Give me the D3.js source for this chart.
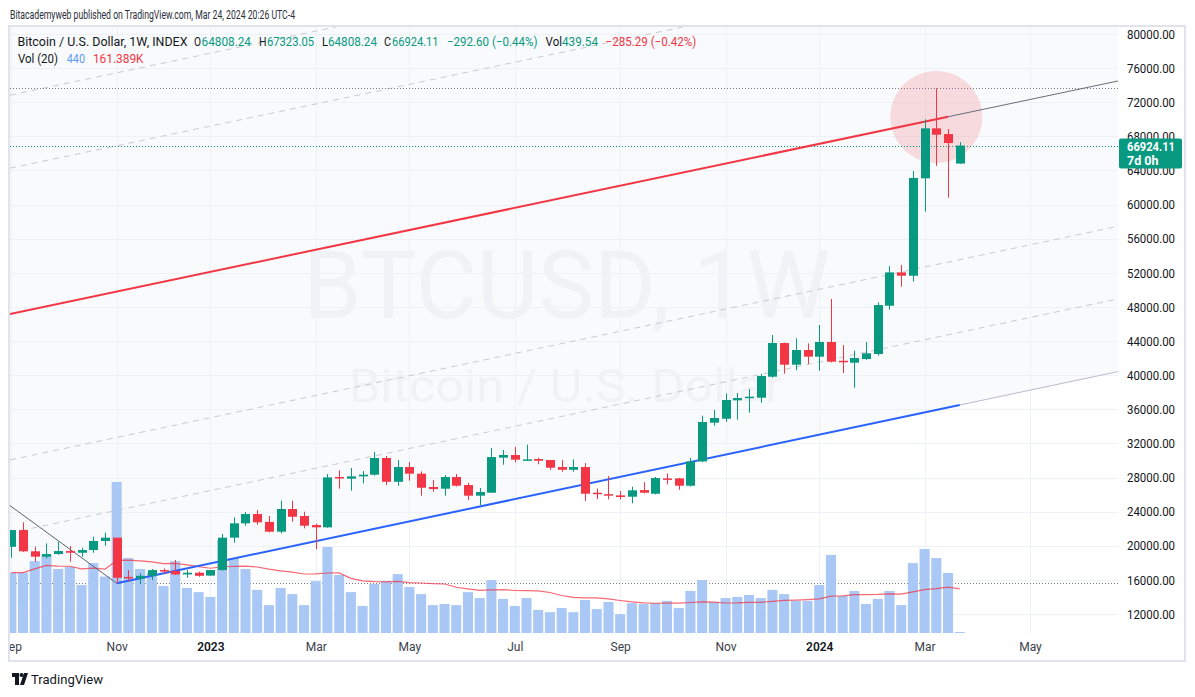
<!DOCTYPE html>
<html><head><meta charset="utf-8">
<script src="https://cdn.jsdelivr.net/npm/d3@7"></script>
<style>
body{margin:0;background:#fff;}
svg{display:block;font-family:Roboto,"Liberation Sans",sans-serif;}
</style>
</head><body>
<svg id="c" width="1195" height="697"></svg>
<script>
// ---------------- DATA ----------------
const weekStarts = [
"2022-09-05","2022-09-12","2022-09-19","2022-09-26","2022-10-03","2022-10-10","2022-10-17","2022-10-24","2022-10-31","2022-11-07",
"2022-11-14","2022-11-21","2022-11-28","2022-12-05","2022-12-12","2022-12-19","2022-12-26","2023-01-02","2023-01-09","2023-01-16",
"2023-01-23","2023-01-30","2023-02-06","2023-02-13","2023-02-20","2023-02-27","2023-03-06","2023-03-13","2023-03-20","2023-03-27",
"2023-04-03","2023-04-10","2023-04-17","2023-04-24","2023-05-01","2023-05-08","2023-05-15","2023-05-22","2023-05-29","2023-06-05",
"2023-06-12","2023-06-19","2023-06-26","2023-07-03","2023-07-10","2023-07-17","2023-07-24","2023-07-31","2023-08-07","2023-08-14",
"2023-08-21","2023-08-28","2023-09-04","2023-09-11","2023-09-18","2023-09-25","2023-10-02","2023-10-09","2023-10-16","2023-10-23",
"2023-10-30","2023-11-06","2023-11-13","2023-11-20","2023-11-27","2023-12-04","2023-12-11","2023-12-18","2023-12-25","2024-01-01",
"2024-01-08","2024-01-15","2024-01-22","2024-01-29","2024-02-05","2024-02-12","2024-02-19","2024-02-26","2024-03-04","2024-03-11",
"2024-03-18","2024-03-25"];

const opens = [19880,21840,19350,18720,19030,19380,19180,19500,20560,20950,
16350,16150,16480,17150,17050,16640,16840,16500,17150,20950,
22630,23720,22800,21650,24310,23490,22430,22160,28060,27860,
28140,28330,30290,27500,29230,28450,26890,26690,28060,27120,
25870,26220,30330,30640,30050,30170,30050,29230,28910,29230,
26220,26050,25910,25750,26530,26100,27900,27900,27040,29880,
34430,34890,37050,37360,37360,39820,43770,41230,42950,42170,
43890,41690,41460,41890,42480,48140,52050,51660,63080,68940,
68270,64808.24];

const highs = [21850,22750,19890,20280,20480,19970,19770,21060,21530,20950,
17150,16770,17270,17350,18330,17150,16960,17150,21380,23330,
23950,24190,23490,25290,25290,24000,22600,28410,28840,29110,
28760,30990,30520,30050,29820,28730,27700,28290,28410,27390,
26770,31460,31220,31580,31850,30330,30050,30050,30130,29700,
26730,28170,26420,26920,27470,28060,28490,27950,30290,35250,
35920,37870,37910,38370,40140,44710,43800,44320,43730,45880,
48930,43530,42870,43890,48540,52800,52920,63940,70000,73630,
68860,67323.05];

const lows = [18600,19250,18130,18520,18950,18130,18710,19180,20000,15600,
15780,15510,15980,16690,16570,16250,16370,16480,17080,20360,
22350,22470,21560,21450,22820,22040,19580,22110,26690,26470,
27320,28220,27120,27040,27620,25870,26330,25870,26950,25360,
24770,26220,29500,29780,29950,29550,28910,28680,28680,25240,
25480,25440,25440,24970,26150,26030,27200,26570,26950,29800,
34070,34540,34780,35600,36770,39700,40170,40570,41310,40520,
41500,40250,38530,41800,42290,47670,50370,50960,59170,64530,
60810,64808.24];

const closes = [21840,19350,18720,19030,19380,19180,19500,20560,20950,16250,
16230,16480,17150,17050,16640,16840,16480,17150,20950,22630,
23720,22750,21650,24310,23400,22350,22160,28020,27900,28140,
28330,30290,27500,29230,28450,26800,26650,28060,27040,25870,
26300,30400,30640,30090,30130,29970,29150,28910,29230,26100,
26100,25870,25710,26500,26220,27940,27790,27040,29880,34510,
34980,37090,37320,37480,39900,43770,41230,42950,42170,43890,
41580,41510,42010,42560,48220,52050,51660,63120,68940,68190,
67217,66924.11];

// volume in thousands
const volumesK = [214,214,255,277,227,234,170,248,200,536,
266,227,214,167,255,160,145,128,330,266,
227,153,99,160,138,99,184,305,206,145,
96,174,184,209,163,138,99,103,99,145,
124,188,121,96,124,82,74,89,74,117,
85,110,67,106,103,106,114,89,149,188,
110,124,128,135,124,153,138,114,114,170,
277,131,149,103,121,149,99,248,298,266,
213,0.44];

const priceTicks = [12000,16000,20000,24000,28000,32000,36000,40000,44000,48000,52000,56000,60000,64000,68000,72000,76000,80000];
const timeTickDates = ["2022-09-05","2022-11-07","2023-01-02","2023-03-06","2023-05-01","2023-07-03","2023-09-04","2023-11-06","2024-01-01","2024-03-04","2024-05-06"];
const timeTickLabels = ["Sep","Nov","2023","Mar","May","Jul","Sep","Nov","2024","Mar","May"];

// drawings (date, price anchors)
const redLine = [["2022-09-05",47200],["2024-03-18",70300]];
const blueLine = [["2022-11-07",15600],["2024-03-25",36500]];
const blackLine = [["2022-09-05",24600],["2022-11-07",15600]];
const channelLevels = [-0.75,-0.5,0.5,0.75];
const hLevels = [73630, 15600];
const lastPrice = 66924.11;
const circleCenter = ["2024-03-11",70270];
const circleTopPrice = 75660;

// ---------------- CHART ----------------
const parse = d3.utcParse("%Y-%m-%d");
const dates = weekStarts.map(parse);
const svg = d3.select("#c");
const P = {x0:10, x1:1118, y0:27, y1:633};
const UP = "#089981", DOWN = "#f23645";

const x = d3.scaleUtc().domain([parse("2022-09-05"), parse("2024-05-06")]).range([11.3, 1030]);
const y = d3.scaleLinear().domain([12000, 80000]).range([614, 34]);
const vy = d3.scaleLinear().domain([0, 540]).range([633, 480.8]);
const step = x(dates[1]) - x(dates[0]);

function lineFn(a, b) {
  const t0 = +parse(a[0]), t1 = +parse(b[0]);
  return t => a[1] + (b[1] - a[1]) * ((+t - t0) / (t1 - t0));
}
const red = lineFn(redLine[0], redLine[1]);
const blue = lineFn(blueLine[0], blueLine[1]);
const blk = lineFn(blackLine[0], blackLine[1]);
const tL = x.invert(P.x0), tR = x.invert(P.x1);

svg.append("rect").attr("width",1195).attr("height",697).attr("fill","#fff");
const defs = svg.append("defs");
defs.append("clipPath").attr("id","plot").append("rect")
  .attr("x",P.x0).attr("y",P.y0).attr("width",P.x1-P.x0).attr("height",P.y1-P.y0);
defs.append("clipPath").attr("id","xax").append("rect")
  .attr("x",P.x0).attr("y",P.y1).attr("width",P.x1-P.x0).attr("height",30);

const g = svg.append("g").attr("clip-path","url(#plot)");

// channel tint
g.append("path").attr("fill","#f8fafb")
  .attr("d", `M${P.x0},${P.y0}L${P.x1},${P.y0}L${P.x1},${y(blue(tR))}L${P.x0},${y(blue(tL))}Z`);

// grid
g.selectAll(".hg").data(priceTicks).enter().append("line")
  .attr("x1",P.x0).attr("x2",P.x1).attr("y1",d=>Math.round(y(d))+0.5).attr("y2",d=>Math.round(y(d))+0.5)
  .attr("stroke","#eef1f6").attr("stroke-width",1);
g.selectAll(".vg").data(timeTickDates).enter().append("line")
  .attr("y1",P.y0).attr("y2",P.y1).attr("x1",d=>Math.round(x(parse(d)))+0.5).attr("x2",d=>Math.round(x(parse(d)))+0.5)
  .attr("stroke","#eef1f6").attr("stroke-width",1);

// watermark
g.append("text").attr("x",303).attr("y",318).attr("font-size",94).attr("fill","#f1f2f5")
  .attr("textLength",527).attr("lengthAdjust","spacingAndGlyphs").text("BTCUSD, 1W");
g.append("text").attr("x",349).attr("y",402).attr("font-size",46).attr("fill","#f1f2f5")
  .attr("textLength",433).attr("lengthAdjust","spacingAndGlyphs").text("Bitcoin / U.S. Dollar");

// circle highlight
const cc = parse(circleCenter[0]);
g.append("circle").attr("cx",x(cc)).attr("cy",y(circleCenter[1]))
  .attr("r", y(circleCenter[1]) - y(circleTopPrice)).attr("fill","rgba(242,54,69,0.16)");

// channel dashed levels
channelLevels.forEach(k => {
  const f = t => red(t) + k * (blue(t) - red(t));
  g.append("line").attr("x1",P.x0).attr("y1",y(f(tL))).attr("x2",P.x1).attr("y2",y(f(tR)))
    .attr("stroke","#c9cbd3").attr("stroke-width",1).attr("stroke-dasharray","6,5");
});

// horizontal dotted lines
hLevels.forEach(p => {
  g.append("line").attr("x1",P.x0).attr("x2",P.x1).attr("y1",Math.round(y(p))+0.5).attr("y2",Math.round(y(p))+0.5)
    .attr("stroke","#787b86").attr("stroke-width",1).attr("stroke-dasharray","1,2");
});
g.append("line").attr("x1",P.x0).attr("x2",P.x1).attr("y1",Math.round(y(lastPrice))+0.5).attr("y2",Math.round(y(lastPrice))+0.5)
  .attr("stroke",UP).attr("stroke-width",1).attr("stroke-dasharray","1,2");

// volume bars
const vw = step * 0.86;
g.selectAll(".vol").data(volumesK).enter().append("rect")
  .attr("x",(d,i)=>x(dates[i]) - vw/2).attr("width",vw)
  .attr("y",d=>Math.min(vy(d), P.y1-1)).attr("height",d=>Math.max(1, P.y1 - vy(d)))
  .attr("fill","#a9c8f6");

// volume MA(20)
const ma = volumesK.map((v,i)=>d3.mean(volumesK.slice(Math.max(0,i-19), i+1)));
g.append("path").datum(ma).attr("fill","none").attr("stroke","#f23645").attr("stroke-opacity",0.75).attr("stroke-width",1.2)
  .attr("d", d3.line().x((d,i)=>x(dates[i])).y(d=>vy(d)));

// black diagonal
g.append("line").attr("x1",P.x0).attr("y1",y(blk(tL))).attr("x2",x(parse(blackLine[1][0]))).attr("y2",y(blackLine[1][1]))
  .attr("stroke","#5d606b").attr("stroke-width",1);

// red line + gray extension
const rEnd = parse(redLine[1][0]);
g.append("line").attr("x1",x(rEnd)).attr("y1",y(red(rEnd))).attr("x2",P.x1).attr("y2",y(red(tR)))
  .attr("stroke","#6a6d78").attr("stroke-width",1);
g.append("line").attr("x1",P.x0).attr("y1",y(red(tL))).attr("x2",x(rEnd)).attr("y2",y(red(rEnd)))
  .attr("stroke","#f23645").attr("stroke-width",2);

// blue line + gray extension
const bS = parse(blueLine[0][0]), bE = parse(blueLine[1][0]);
g.append("line").attr("x1",x(bE)).attr("y1",y(blue(bE))).attr("x2",P.x1).attr("y2",y(blue(tR)))
  .attr("stroke","#b8bccb").attr("stroke-width",1);
g.append("line").attr("x1",x(bS)).attr("y1",y(blue(bS))).attr("x2",x(bE)).attr("y2",y(blue(bE)))
  .attr("stroke","#2962ff").attr("stroke-width",2);

// candles
const cw = 9;
const candles = g.selectAll(".cd").data(dates).enter().append("g");
candles.append("line")
  .attr("x1",(d,i)=>Math.round(x(d))+0.5).attr("x2",(d,i)=>Math.round(x(d))+0.5)
  .attr("y1",(d,i)=>y(highs[i])).attr("y2",(d,i)=>y(lows[i]))
  .attr("stroke",(d,i)=>closes[i]>=opens[i]?UP:DOWN).attr("stroke-width",1);
candles.append("rect")
  .attr("x",(d,i)=>Math.round(x(d))+0.5 - cw/2).attr("width",cw)
  .attr("y",(d,i)=>y(Math.max(opens[i],closes[i])))
  .attr("height",(d,i)=>Math.max(1.5, Math.abs(y(opens[i])-y(closes[i]))))
  .attr("fill",(d,i)=>closes[i]>=opens[i]?UP:DOWN);

// ---------------- AXES ----------------
const yAxis = d3.axisRight(y).tickValues(priceTicks).tickSize(0).tickPadding(0).tickFormat(d=>d.toFixed(2));
const ya = svg.append("g").attr("transform","translate(1127,0)").call(yAxis);
ya.select(".domain").remove();
ya.selectAll("text").attr("font-size",12).attr("fill","#131722").attr("dy","0.35em")
  .attr("textLength",48).attr("lengthAdjust","spacingAndGlyphs").style("font-family","Roboto, sans-serif");

const xAxis = d3.axisBottom(x).tickValues(timeTickDates.map(parse)).tickSize(0).tickPadding(0)
  .tickFormat((d,i)=>timeTickLabels[i]);
const xa = svg.append("g").attr("clip-path","url(#xax)").append("g").attr("transform","translate(0,642.5)").call(xAxis);
xa.select(".domain").remove();
xa.selectAll("text").attr("font-size",12).attr("dy","0.71em")
  .attr("fill",(d,i)=>/^\d/.test(timeTickLabels[i])?"#131722":"#3a3e4a")
  .attr("font-weight",(d,i)=>/^\d/.test(timeTickLabels[i])?"600":"400")
  .style("font-family","Roboto, sans-serif");

// last price label
svg.append("rect").attr("x",1119).attr("y",Math.round(y(lastPrice))-7.5).attr("width",63).attr("height",30).attr("rx",2).attr("fill",UP);
svg.append("text").attr("x",1127).attr("y",Math.round(y(lastPrice))+4.5).attr("font-size",12.5).attr("font-weight",700)
  .attr("fill","#fff").attr("textLength",48).attr("lengthAdjust","spacingAndGlyphs").text(lastPrice.toFixed(2));
svg.append("text").attr("x",1127).attr("y",Math.round(y(lastPrice))+19).attr("font-size",12.5).attr("font-weight",700)
  .attr("fill","#fff").text("7d 0h");

// frame
svg.append("rect").attr("x",9).attr("y",26).attr("width",1176).attr("height",635)
  .attr("fill","none").attr("stroke","#e0e3eb").attr("stroke-width",2);

// ---------------- TEXTS ----------------
function txt(s, x0, yb, len, color, size) {
  svg.append("text").attr("x",x0).attr("y",yb).attr("font-size",size||12.5).attr("fill",color)
    .attr("textLength",len).attr("lengthAdjust","spacingAndGlyphs").text(s);
}
txt("Bitacademyweb published on TradingView.com, Mar 24, 2024 20:26 UTC-4", 10, 19, 285, "#2a2e39", 12.5);

const DK = "#131722";
txt("Bitcoin / U.S. Dollar, 1W, INDEX", 17.5, 46, 170, DK);
txt("O", 194, 46, 7, DK); txt("64808.24", 201.5, 46, 49.5, UP);
txt("H", 259, 46, 7.5, DK); txt("67323.05", 267, 46, 47, UP);
txt("L", 322, 46, 6, DK); txt("64808.24", 328, 46, 49, UP);
txt("C", 384, 46, 7, DK); txt("66924.11", 392, 46, 46.6, UP);
txt("\u2212292.60 (\u22120.44%)", 447, 46, 90.5, UP);
txt("Vol", 545.6, 46, 16.4, DK); txt("439.54", 562, 46, 36, UP);
txt("\u2212285.29 (\u22120.42%)", 605.6, 46, 90.7, DOWN);
txt("Vol (20)", 18, 63, 40, DK);
txt("440", 66.8, 63, 18.2, "#5b9cf6");
txt("161.389K", 92.9, 63, 50.7, DOWN);

// TradingView logo
const lg = svg.append("g").attr("fill","#131722");
lg.append("rect").attr("x",12).attr("y",673).attr("width",7).attr("height",4);
lg.append("rect").attr("x",15).attr("y",673).attr("width",4).attr("height",12);
lg.append("circle").attr("cx",21.5).attr("cy",675).attr("r",2);
lg.append("path").attr("d","M24,673 L28,673 L24,685 L20,685 Z");
txt("TradingView", 31, 684, 72, DK, 13);
</script>
</body></html>
